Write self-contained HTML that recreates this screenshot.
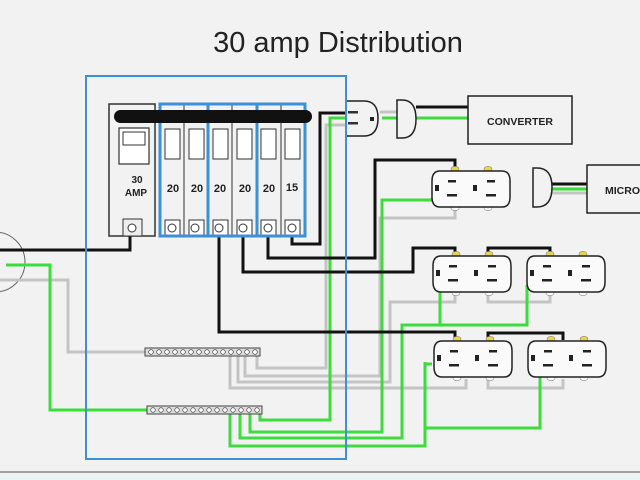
<!DOCTYPE html>
<html><head><style>
html,body{margin:0;padding:0;background:#f2f2f2;}
svg{display:block}
text{font-family:"Liberation Sans",sans-serif;}
</style></head><body>
<svg width="640" height="480" viewBox="0 0 640 480" xmlns="http://www.w3.org/2000/svg">
<rect x="0" y="0" width="640" height="480" fill="#f2f2f2"/>
<rect x="0" y="472" width="640" height="8" fill="#eef3f6"/>
<line x1="0" y1="472" x2="640" y2="472" stroke="#888" stroke-width="1.5"/>
<text x="338" y="52" font-size="29" text-anchor="middle" fill="#222">30 amp  Distribution</text>

<!-- service circle -->
<circle cx="-5" cy="262" r="30" fill="none" stroke="#666" stroke-width="1"/>

<g fill="none" stroke-linejoin="miter">
<!-- gray neutrals -->
<g stroke="#c4c4c4" stroke-width="3">
<polyline points="0,280 68,280 68,352 147,352"/>
<polyline points="326,230 326,125 355,125"/>
<polyline points="257,356 257,368 326,368 326,230"/>
<polyline points="245,356 245,376 380,376 380,218 455,218 455,208"/>
<polyline points="238,356 238,382 390,382 390,302 455,302 455,294"/>
<polyline points="488,294 488,302 550,302 550,294"/>
<polyline points="230,356 230,388 466,388 466,379"/>
<polyline points="488,379 488,388 563,388 563,379"/>
<polyline points="380,112 398,112"/>
<polyline points="550,193 587,193"/>
</g>
<!-- green grounds -->
<g stroke="#3ddc3d" stroke-width="3">
<polyline points="6,265 50,265 50,410 150,410"/>
<polyline points="260,410 260,420 330,420 330,118 360,118"/>
<polyline points="250,410 250,432 382,432 382,200 432,200 432,198"/>
<polyline points="240,410 240,438 402,438 402,325 440,325 440,285"/>
<polyline points="402,325 527,325 527,285"/>
<polyline points="230,410 230,446 425,446 425,364 432,364"/>
<polyline points="425,364 425,362"/>
<polyline points="425,428 540,428 540,365"/>
<polyline points="382,118 398,118"/>
<polyline points="550,189 587,189"/>
<polyline points="416,118 468,118"/>
</g>
<!-- black hots -->
<g stroke="#111" stroke-width="3">
<polyline points="130,228 130,250 0,250"/>
<polyline points="292,228 292,244 320,244 320,113 355,113"/>
<polyline points="268,228 268,258 375,258 375,160 455,160 455,170"/>
<polyline points="243,228 243,272 413,272 413,248 455,248 455,255"/>
<polyline points="488,255 488,248 550,248 550,255"/>
<polyline points="219,228 219,332 455,332 455,340"/>
<polyline points="488,340 488,333 563,333 563,340"/>
<polyline points="416,107 468,107"/>
<polyline points="550,184 587,184"/>
</g>
</g>

<!-- bus bars -->
<g>
<rect x="145" y="348" width="115" height="8" fill="#ddd" stroke="#444" stroke-width="1"/>
<rect x="147" y="406" width="115" height="8" fill="#ddd" stroke="#444" stroke-width="1"/>
<g fill="#fff" stroke="#555" stroke-width="0.8">
<circle cx="151" cy="352" r="2.3"/><circle cx="159" cy="352" r="2.3"/><circle cx="167" cy="352" r="2.3"/><circle cx="175" cy="352" r="2.3"/><circle cx="183" cy="352" r="2.3"/><circle cx="191" cy="352" r="2.3"/><circle cx="199" cy="352" r="2.3"/><circle cx="207" cy="352" r="2.3"/><circle cx="215" cy="352" r="2.3"/><circle cx="223" cy="352" r="2.3"/><circle cx="231" cy="352" r="2.3"/><circle cx="239" cy="352" r="2.3"/><circle cx="247" cy="352" r="2.3"/><circle cx="255" cy="352" r="2.3"/>
<circle cx="153" cy="410" r="2.3"/><circle cx="161" cy="410" r="2.3"/><circle cx="169" cy="410" r="2.3"/><circle cx="177" cy="410" r="2.3"/><circle cx="185" cy="410" r="2.3"/><circle cx="193" cy="410" r="2.3"/><circle cx="201" cy="410" r="2.3"/><circle cx="209" cy="410" r="2.3"/><circle cx="217" cy="410" r="2.3"/><circle cx="225" cy="410" r="2.3"/><circle cx="233" cy="410" r="2.3"/><circle cx="241" cy="410" r="2.3"/><circle cx="249" cy="410" r="2.3"/><circle cx="257" cy="410" r="2.3"/>
</g>
</g>

<!-- panel -->
<rect x="86" y="76" width="260" height="383" fill="none" stroke="#3d8fd6" stroke-width="2"/>
<rect x="109" y="104" width="46" height="132" fill="#f2f2f2" stroke="#333" stroke-width="1.5"/>
<rect x="119" y="128" width="30" height="36" fill="#fff" stroke="#333" stroke-width="1.2"/>
<rect x="123" y="132" width="22" height="13" fill="none" stroke="#333"/>
<text x="137" y="183" font-size="10" font-weight="bold" text-anchor="middle" fill="#222">30</text>
<text x="136" y="196" font-size="10" font-weight="bold" text-anchor="middle" fill="#222">AMP</text>
<rect x="123" y="219" width="19" height="17" fill="#eee" stroke="#333"/>
<circle cx="132" cy="228" r="4" fill="#fff" stroke="#333"/>

<g stroke="#333" stroke-width="1" fill="#f2f2f2">
<rect x="161" y="104" width="23" height="132"/><rect x="184" y="104" width="24" height="132"/><rect x="208" y="104" width="24" height="132"/><rect x="232" y="104" width="25" height="132"/><rect x="257" y="104" width="24" height="132"/><rect x="281" y="104" width="24" height="132"/>
</g>
<g stroke="#333" stroke-width="1" fill="#fff">
<rect x="165" y="129" width="15" height="30"/><rect x="189" y="129" width="15" height="30"/><rect x="213" y="129" width="15" height="30"/><rect x="237" y="129" width="15" height="30"/><rect x="261" y="129" width="15" height="30"/><rect x="285" y="129" width="15" height="30"/>
<rect x="165" y="220" width="15" height="15"/><rect x="189" y="220" width="15" height="15"/><rect x="213" y="220" width="15" height="15"/><rect x="237" y="220" width="15" height="15"/><rect x="261" y="220" width="15" height="15"/><rect x="285" y="220" width="15" height="15"/>
<circle cx="172" cy="228" r="4"/><circle cx="195" cy="228" r="4"/><circle cx="219" cy="228" r="4"/><circle cx="243" cy="228" r="4"/><circle cx="268" cy="228" r="4"/><circle cx="292" cy="228" r="4"/>
</g>
<g stroke="#3d8fd6" stroke-width="3" fill="none">
<rect x="160" y="104" width="48" height="132"/><rect x="208" y="104" width="49" height="132"/><rect x="257" y="104" width="48" height="132"/>
</g>
<g font-size="11" font-weight="bold" fill="#222" text-anchor="middle">
<text x="173" y="192">20</text><text x="197" y="192">20</text><text x="220" y="192">20</text><text x="245" y="192">20</text><text x="269" y="192">20</text><text x="292" y="191">15</text>
</g>
<rect x="114" y="110" width="198" height="13" rx="6.5" fill="#111"/>

<!-- plug at panel -->
<path d="M347,101 H364 Q378,101 378,118 Q378,136 364,136 H347" fill="#f2f2f2" stroke="#222" stroke-width="1.5"/>
<rect x="348" y="111" width="10" height="2.5" fill="#333"/><rect x="348" y="122" width="10" height="2.5" fill="#333"/><rect x="370" y="117" width="4" height="4" fill="#222"/>
<path d="M397,100 H402 Q416,100 416,119 Q416,138 402,138 H397 Z" fill="#f2f2f2" stroke="#222" stroke-width="1.5"/>
<rect x="468" y="96" width="104" height="48" fill="#f2f2f2" stroke="#222" stroke-width="1.5"/>
<text x="520" y="125" font-size="10.5" font-weight="bold" text-anchor="middle" fill="#222">CONVERTER</text>
<path d="M533,168 H537 Q552,168 552,187 Q552,207 537,207 H533 Z" fill="#f2f2f2" stroke="#222" stroke-width="1.5"/>
<rect x="587" y="165" width="60" height="48" fill="#f2f2f2" stroke="#222" stroke-width="1.5"/>
<text x="605" y="194" font-size="10.5" font-weight="bold" fill="#222">MICRO</text>

<!-- receptacles -->
<defs>
<g id="rc">
<ellipse cx="23" cy="0" rx="4" ry="2.6" fill="#e7d44a" stroke="#886" stroke-width="0.6"/>
<ellipse cx="56" cy="0" rx="4" ry="2.6" fill="#e7d44a" stroke="#886" stroke-width="0.6"/>
<ellipse cx="23" cy="39" rx="4" ry="2.6" fill="#fff" stroke="#888" stroke-width="0.6"/>
<ellipse cx="56" cy="39" rx="4" ry="2.6" fill="#fff" stroke="#888" stroke-width="0.6"/>
<path d="M8,2 H70 Q78,2 78,12 V28 Q78,38 70,38 H8 Q0,38 0,28 V12 Q0,2 8,2 Z" fill="#fafafa" stroke="#222" stroke-width="1.5"/>
<rect x="3" y="16" width="4" height="6" fill="#222"/><rect x="16" y="11" width="8" height="2.5" fill="#222"/><rect x="15" y="25" width="10" height="2.5" fill="#222"/>
<rect x="41" y="16" width="4" height="6" fill="#222"/><rect x="55" y="11" width="8" height="2.5" fill="#222"/><rect x="54" y="25" width="10" height="2.5" fill="#222"/>
</g>
</defs>
<use href="#rc" x="432" y="169"/>
<use href="#rc" x="433" y="254"/>
<use href="#rc" x="527" y="254"/>
<use href="#rc" x="434" y="339"/>
<use href="#rc" x="528" y="339"/>
</svg>
</body></html>
